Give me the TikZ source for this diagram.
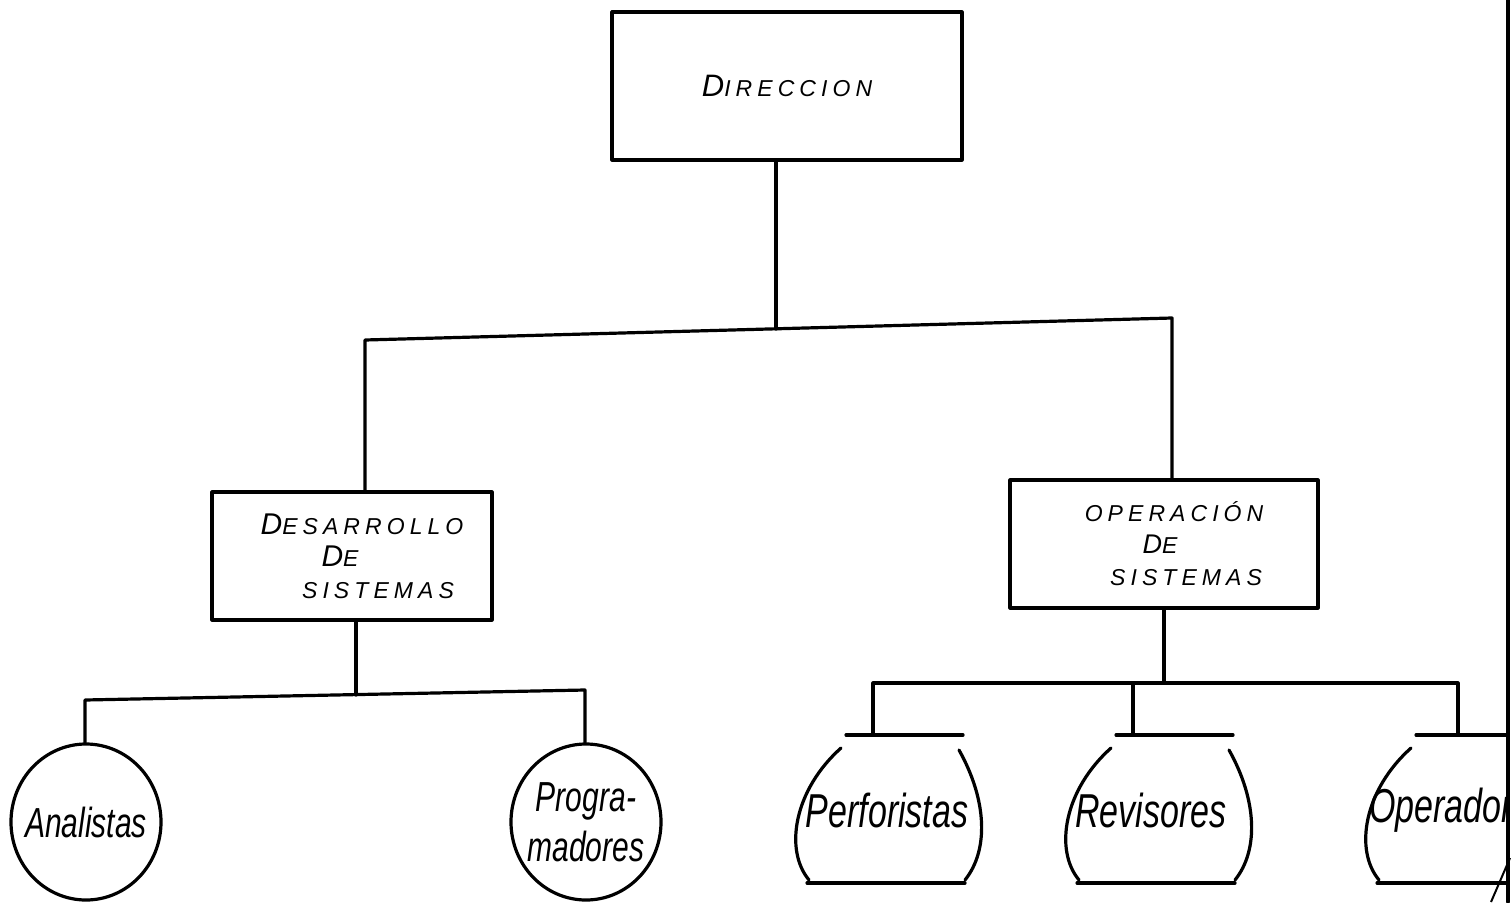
\documentclass[tikz,border=0pt]{standalone}
\usepackage{fontspec}
\usepackage{graphicx}
\setmainfont{Liberation Sans}
\newfontfamily\capsfont[LetterSpace=22]{Liberation Sans}
\usetikzlibrary{calc,shapes.geometric}

% tall, narrow lettering for the staff labels
\newcommand\tall[1]{\scalebox{1}[1.4]{#1}}

% open "barrel" outline drawn around the current origin
\newcommand\barrelshape{%
  \draw[hand] (-31,-75) -- (86,-75);
  \draw[hand] (-36,-62) .. controls (-83,-20) and (-93,40) .. (-68,70);
  \draw[hand] (-70,73) -- (88,73);
  \draw[hand] (82,-60) .. controls (110,-10) and (112,40) .. (88,70);
}

\begin{document}
\begin{tikzpicture}[x=1pt,y=-1pt,
  hand/.style={line width=3.2pt, line cap=round, line join=round},
  unit/.style={draw, hand, rectangle, inner sep=0pt, align=center,
    font=\capsfont\itshape\fontsize{23}{32}\selectfont},
  oval/.style={draw, hand, ellipse, inner xsep=-14pt, inner ysep=0pt,
    minimum width=150, minimum height=156, align=center,
    font=\itshape\fontsize{30}{50}\selectfont},
  staff/.style={rectangle, inner sep=0pt, minimum width=150, minimum height=150,
    font=\itshape\fontsize{34}{40}\selectfont}]
\useasboundingbox (0,0) rectangle (1512,902);

% top level
\node[unit, minimum width=350, minimum height=148] (dir) at (787,86)
  {{\fontsize{31}{32}\selectfont D}IRECCION};

% departments
\node[unit, minimum width=280, minimum height=128] (des) at (352,556)
  {\hspace*{20pt}{\fontsize{30}{32}\selectfont D}ESARROLLO\\
   \hspace*{-24pt}{\fontsize{30}{32}\selectfont D}E\\
   \hspace*{52pt}SISTEMAS};
\node[unit, minimum width=308, minimum height=128] (ope) at (1164,544)
  {\hspace*{20pt}OPERACIÓN\\
   \hspace*{-8pt}{\fontsize{27}{32}\selectfont D}E\\
   \hspace*{44pt}SISTEMAS};

% staff groups
\node[oval] (ana) at (86,822) {\tall{Analistas}};
\node[oval] (pro) at (586,822) {\tall{Progra-}\\\tall{madores}};
\node[staff] (per) at (887,810) {\tall{Perforistas}};
\node[staff] (rev) at (1151,810) {\tall{Revisores}};
\begin{scope}
  \clip (0,0) rectangle (1507,902);
  \node[staff] (opr) at (1441,810) {\tall{Operador}};
  \begin{scope}[shift={(opr.center)}, xshift=6pt] \barrelshape \end{scope}
\end{scope}
\begin{scope}[shift={(per.center)}, xshift=-10pt] \barrelshape \end{scope}
\begin{scope}[shift={(rev.center)}, xshift=-4pt] \barrelshape \end{scope}

% connectors: direction to departments
\coordinate (t1) at (365,340);
\coordinate (t2) at (1172,318);
\coordinate (tm) at (776,329);
\draw[hand] ([xshift=-11pt]dir.south) -- (tm);
\draw[hand] (t1 |- des.north) -- (t1) -- (t2) -- (t2 |- ope.north);

% connectors: development to its staff
\coordinate (l1) at (85,700);
\coordinate (l2) at (585,690);
\coordinate (lm) at (356,695);
\draw[hand] ([xshift=4pt]des.south) -- (lm);
\draw[hand] (l1 |- ana.north) -- (l1) -- (l2) -- (l2 |- pro.north);

% connectors: operation to its staff
\coordinate (r1) at (873,683);
\coordinate (r2) at (1458,683);
\coordinate (r3) at (1133,683);
\draw[hand] (ope.south) -- (ope.south |- r1);
\draw[hand] (r1 |- per.north) -- (r1) -- (r2) -- (r2 |- opr.north);
\draw[hand] (r3) -- (r3 |- rev.north);

% sheet edge
\draw[hand] (1508,0) -- (1508,902);
\draw[line width=2pt] (1491,902) -- (1510,858);
\end{tikzpicture}
\end{document}
